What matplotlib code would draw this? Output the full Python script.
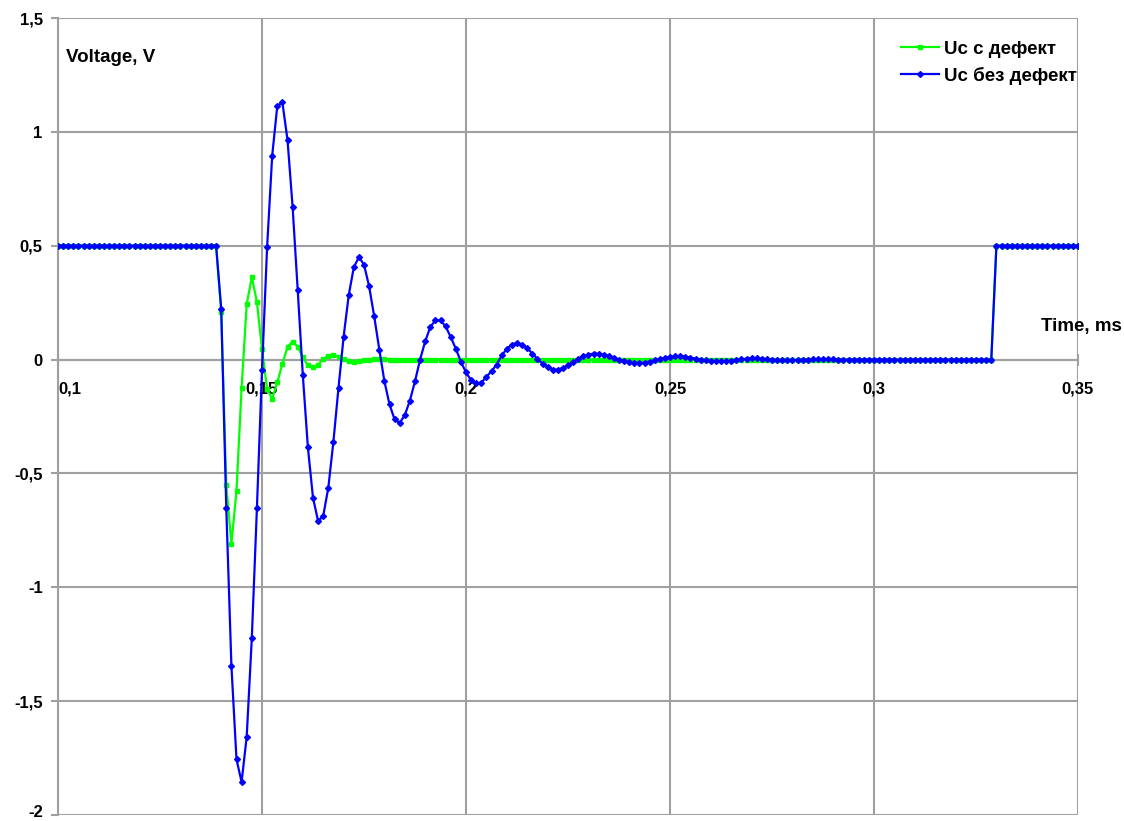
import numpy as np
import matplotlib
matplotlib.use("Agg")
import matplotlib.pyplot as plt
from matplotlib.ticker import FuncFormatter, FixedLocator
from matplotlib.transforms import ScaledTranslation

plt.rcParams['font.family'] = ['Liberation Sans', 'DejaVu Sans']
plt.rcParams['font.weight'] = 'bold'

# ---- data ----
t_start = 0.1
t_step = 0.00125
n_points = 201
time_ms = np.round(t_start + t_step * np.arange(n_points), 6)

pre_level = [0.5] * 32
post_level = [0.5] * 17

uc_no_defect_osc = [
    0.224, -0.654, -1.344, -1.756, -1.855, -1.656, -1.224, -0.654, -0.047, 0.494,
    0.896, 1.114, 1.129, 0.965, 0.671, 0.306, -0.067, -0.386, -0.607, -0.709,
    -0.687, -0.563, -0.361, -0.124, 0.099, 0.282, 0.405, 0.450, 0.417, 0.322,
    0.190, 0.044, -0.095, -0.197, -0.263, -0.278, -0.244, -0.180, -0.095, 0.0,
    0.080, 0.143, 0.172, 0.172, 0.146, 0.099, 0.048, -0.010, -0.056, -0.091,
    -0.105, -0.102, -0.076, -0.051, -0.022, 0.018, 0.047, 0.066, 0.073, 0.066,
    0.051, 0.026, 0.003, -0.018, -0.032, -0.044, -0.044, -0.037, -0.026, -0.012,
    0.003, 0.015, 0.022, 0.026, 0.026, 0.022, 0.015, 0.007, 0.0, -0.007,
    -0.012, -0.015, -0.015, -0.013, -0.009, -0.004, 0.002, 0.007, 0.011, 0.014,
    0.015, 0.013, 0.009, 0.004, 0.0, -0.004, -0.007, -0.008, -0.008, -0.007,
    -0.005, -0.002, 0.001, 0.004, 0.005, 0.005, 0.004, 0.002, 0.0, -0.002,
    -0.003, -0.003, -0.003, -0.002, -0.001, 0.0, 0.001, 0.002, 0.002, 0.002,
    0.001,
]
uc_no_defect = pre_level + uc_no_defect_osc + [0.0] * (184 - 32 - len(uc_no_defect_osc)) + post_level

uc_defect_osc = [
    0.21, -0.553, -0.808, -0.575, -0.124, 0.243, 0.362, 0.253, 0.047, -0.13,
    -0.172, -0.10, -0.019, 0.056, 0.079, 0.056, 0.01, -0.026, -0.033, -0.022,
    0.003, 0.015, 0.018, 0.012, 0.002, -0.006, -0.009, -0.007, -0.003, 0.0,
    0.002, 0.003, 0.002,
]
uc_defect = pre_level + uc_defect_osc + [0.0] * (184 - 32 - len(uc_defect_osc)) + post_level

x_ticks = [0.1, 0.15, 0.2, 0.25, 0.3, 0.35]
y_ticks = [-2, -1.5, -1, -0.5, 0, 0.5, 1, 1.5]
label_defect = "Uc с дефект"
label_no_defect = "Uc без дефект"

# ---- figure ----
fig = plt.figure(figsize=(11.24, 8.21), dpi=100)
W, H = 1124, 821
ax = fig.add_axes([58 / W, 1 - 815 / H, (1078 - 58) / W, (815 - 18) / H])

grid_col = '#a0a0a0'
ax.plot(time_ms, uc_defect, color='#00ff00', lw=1.6, marker='s', ms=3.5,
        label=label_defect, zorder=3)
ax.plot(time_ms, uc_no_defect, color='#0000ff', lw=1.6, marker='D', ms=3,
        label=label_no_defect, zorder=4)

ax.set_xlim(0.1, 0.35)
ax.set_ylim(-2, 1.5)
ax.xaxis.set_major_locator(FixedLocator(x_ticks))
ax.yaxis.set_major_locator(FixedLocator(y_ticks))

def fmt(v, pos):
    return ('%g' % round(v, 4)).replace('.', ',')

ax.xaxis.set_major_formatter(FuncFormatter(fmt))
ax.yaxis.set_major_formatter(FuncFormatter(fmt))

ax.grid(True, color=grid_col, lw=1.5, zorder=0)
for s in ['top', 'right']:
    ax.spines[s].set_visible(False)
ax.spines['left'].set_color(grid_col)
ax.spines['left'].set_linewidth(1.5)
ax.spines['bottom'].set_position(('data', 0))
ax.spines['bottom'].set_color(grid_col)
ax.spines['bottom'].set_linewidth(1.5)

ax.tick_params(axis='y', direction='out', length=5, width=1.5, color=grid_col,
               labelsize=12, pad=6)
ax.tick_params(axis='x', direction='inout', length=8, width=1.5, color=grid_col,
               labelsize=12, pad=12)
for lab in ax.get_xticklabels() + ax.get_yticklabels():
    lab.set_fontweight('bold')
xl = ax.get_xticklabels()
xl[0].set_ha('left')
yl = ax.get_yticklabels()
yl[0].set_transform(yl[0].get_transform() + ScaledTranslation(0, 4 / 100, fig.dpi_scale_trans))

fig.text(66 / W, 1 - 58 / H, "Voltage, V", fontsize=13.5, fontweight='bold',
         va='center', ha='left')
fig.text(1122 / W, 1 - 326 / H, "Time, ms", fontsize=13.5, fontweight='bold',
         va='center', ha='right')

leg = ax.legend(loc='upper right', bbox_to_anchor=(1084 / W, 1 - 33 / H),
                bbox_transform=fig.transFigure, frameon=False,
                prop={'weight': 'bold', 'size': 13.5}, handlelength=2.0,
                handletextpad=0.25, labelspacing=0.5, borderaxespad=0)

fig.savefig('out.png', dpi=100)
